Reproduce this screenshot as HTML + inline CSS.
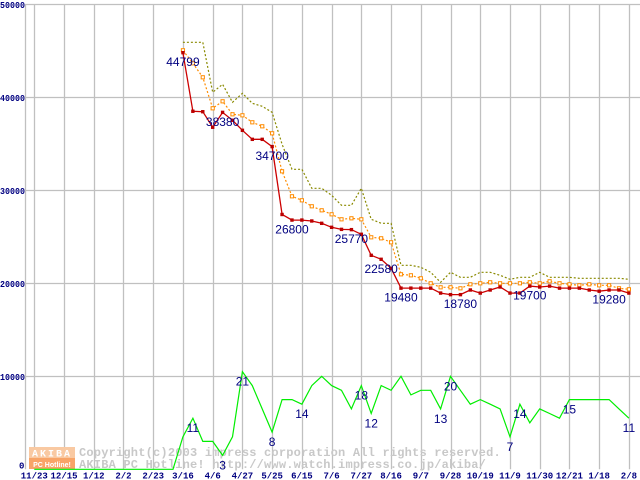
<!DOCTYPE html>
<html><head><meta charset="utf-8"><style>
html,body{margin:0;padding:0;background:#fff;}
svg{display:block;}
</style></head><body>
<svg id="chart" width="640" height="480" viewBox="0 0 640 480" xmlns="http://www.w3.org/2000/svg">
<g id="grid"></g>
<g id="yaxis"></g>
<g id="xaxis"></g>
<g id="wm">
  <rect x="29" y="447" width="46" height="11" fill="#f9c9a2"/>
  <rect x="29" y="458" width="46" height="11" fill="#f8a468"/>
  <text x="52" y="456.5" text-anchor="middle" font-family="Liberation Mono, monospace" font-weight="bold" font-size="10" fill="#fff" letter-spacing="2">AKIBA</text>
  <text x="52" y="467" text-anchor="middle" font-family="Liberation Sans, sans-serif" font-weight="bold" font-size="7" fill="#fff">PC Hotline!</text>
  <text x="79" y="456" font-family="Liberation Mono, monospace" font-weight="bold" font-size="12" fill="#c8c8c8" letter-spacing="0.2">Copyright(c)2003 impress corporation All rights reserved.</text>
  <text x="79" y="468" font-family="Liberation Mono, monospace" font-weight="bold" font-size="12" fill="#c8c8c8" letter-spacing="0.2">AKIBA PC Hotline!  http://www.watch.impress.co.jp/akiba/</text>
</g>
<g id="series"></g>
<g id="labels"></g>
</svg>
<script>
const xLabels = ["11/23","12/15","1/12","2/2","2/23","3/16","4/6","4/27","5/25","6/15","7/6","7/27","8/16","9/7","9/28","10/19","11/9","11/30","12/21","1/18","2/8"];
const yTicks = [0,10000,20000,30000,40000,50000];
const priceStart = 15;
const minPrice = [44799,38500,38450,36780,38380,37530,36450,35480,35480,34700,27400,26800,26800,26700,26450,26020,25800,25770,25270,23010,22580,21610,
 19480,19480,19480,19480,18950,18780,18780,19280,18950,19280,19600,18950,18950,19700,19600,19700,19480,19480,19480,19280,19150,19280,19280,18950];
const avgPrice = [45054,43656,42151,38817,39570,38172,38065,37312,36882,36129,32043,29355,28925,28280,27849,27419,26882,26989,26882,24946,24839,24409,
 20968,20860,20538,20000,19570,19570,19462,19892,20000,20108,20000,20000,20000,20108,20000,20215,20000,19892,19785,19892,19785,19785,19462,19355];
const maxPrice = [45914,45914,45914,40538,41398,39462,40430,39355,39032,38387,34946,32258,32258,30215,30215,29462,28387,28387,30215,26882,26452,26452,
 21935,21935,21720,21183,20108,21183,20645,20645,21183,21183,20860,20430,20645,20645,21183,20645,20645,20645,20538,20538,20538,20538,20538,20430];
const shopCount = [0,0,0,0,0,0,0,0,0,0,0,0,0,0,0,7,11,6,6,3,7,21,18,13,8,15,15,14,18,20,18,17,13,18,12,18,17,20,16,17,17,13,20,17,14,15,14,13,7,14,10,13,12,11,15,15,15,15,15,13,11];
const priceLabelIdx = [15,19,24,26,32,35,37,43,50,58];
const countLabelIdx = [16,19,21,24,27,33,34,41,42,48,49,54,60];

const NS="http://www.w3.org/2000/svg";
const X0=34.3, DX=9.91, Y0=469.3, KY=0.0093, COUNT_SCALE=500;
function xs(i){return X0+DX*i;}
function ys(v){return Y0-v*KY;}
function mk(tag,attrs,parent){const e=document.createElementNS(NS,tag);for(const k in attrs)e.setAttribute(k,attrs[k]);parent.appendChild(e);return e;}
const grid=document.getElementById('grid'),yax=document.getElementById('yaxis'),xax=document.getElementById('xaxis'),ser=document.getElementById('series'),lab=document.getElementById('labels');

const lb=mk('line',{x1:25.5,y1:4,x2:25.5,y2:Y0,stroke:'#c0c0c0','stroke-width':1.3},grid);


yTicks.forEach(v=>{
  const y=Math.round(ys(v))+0.5;
  if(v>0){
    const l=mk('line',{x1:25,y1:y,x2:640,y2:y,stroke:'#c0c0c0','stroke-width':1.3},grid);
    
    
  }
  const s=String(v);
  const attrs={x:v===0?19:0,y:v===0?ys(v)-1:ys(v)+3.5,'font-family':'Liberation Mono, monospace','font-weight':'bold','font-size':9,fill:'#000080'};
  if(s.length>1){attrs.textLength=s.length*5;attrs.lengthAdjust='spacingAndGlyphs';}
  const t=mk('text',attrs,yax);
  t.textContent=s;
  
  
});
xLabels.forEach((s,k)=>{
  const x=Math.round(xs(k*3))+0.5;
  const l=mk('line',{x1:x,y1:4,x2:x,y2:Y0,stroke:'#c0c0c0','stroke-width':1.3},grid);
  
  
  const t=mk('text',{x:xs(k*3),y:478.5,'text-anchor':'middle','font-family':'Liberation Mono, monospace','font-weight':'bold','font-size':9,fill:'#000080'},xax);
  t.textContent=s;
  
  
});
function pts(arr,off,f){return arr.map((v,j)=>xs(j+off).toFixed(1)+','+ys(f(v)).toFixed(1)).join(' ');}
const id=v=>v;
const cnt=mk('polyline',{points:pts(shopCount,0,v=>v*COUNT_SCALE),fill:'none',stroke:'#00ee00','stroke-width':1.2},ser);


const mx=mk('polyline',{points:pts(maxPrice,priceStart,id),fill:'none',stroke:'#8a8a00','stroke-width':1.2,'stroke-dasharray':'2,2'},ser);


const av=mk('polyline',{points:pts(avgPrice,priceStart,id),fill:'none',stroke:'#ff8c00','stroke-width':1.2,'stroke-dasharray':'2,2'},ser);


avgPrice.forEach((v,j)=>{
  const r=mk('rect',{x:xs(j+priceStart)-1.6,y:ys(v)-1.6,width:3.2,height:3.2,fill:'#fff',stroke:'#ff8c00','stroke-width':1},ser);
  
  
});
const mn=mk('polyline',{points:pts(minPrice,priceStart,id),fill:'none',stroke:'#cc0000','stroke-width':1.3},ser);


minPrice.forEach((v,j)=>{
  const r=mk('rect',{x:xs(j+priceStart)-1.7,y:ys(v)-1.7,width:3.4,height:3.4,fill:'#bb0000'},ser);
  
  
});
priceLabelIdx.forEach(i=>{
  const v=minPrice[i-priceStart];
  const t=mk('text',{x:xs(i),y:ys(v)+13.5,'text-anchor':'middle','font-family':'Liberation Sans, sans-serif','font-size':12,fill:'#000080'},lab);
  t.textContent=String(v);
  
  
});
countLabelIdx.forEach(i=>{
  const v=shopCount[i];
  const t=mk('text',{x:xs(i),y:ys(v*COUNT_SCALE)+14,'text-anchor':'middle','font-family':'Liberation Sans, sans-serif','font-size':12,fill:'#000080'},lab);
  t.textContent=String(v);
  
  
});
</script>
</body></html>
